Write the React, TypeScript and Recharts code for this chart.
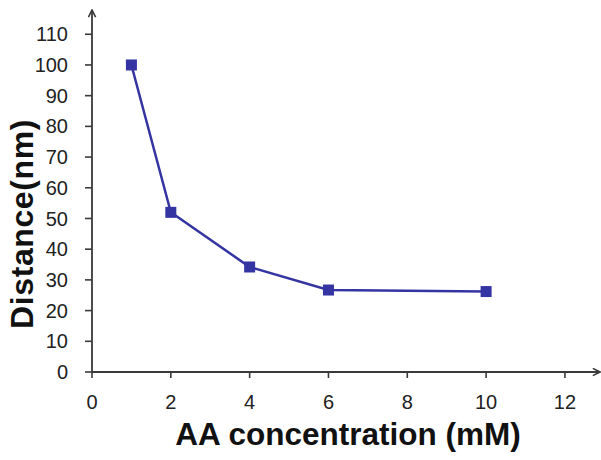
import React from "react";
import { LineChart, Line, XAxis, YAxis } from "recharts";

const concentrations = [1, 2, 4, 6, 10];
const distances = [100, 52, 34.2, 26.7, 26.2];
const xTicks = [0, 2, 4, 6, 8, 10, 12];
const yTicks = [0, 10, 20, 30, 40, 50, 60, 70, 80, 90, 100, 110];

const data = concentrations.map((c, i) => ({ c, d: distances[i] }));

const FONT = "'Liberation Sans', Arial, sans-serif";
const LINE_COLOR = "#3434a2";
const AXIS_COLOR = "#3a3a3a";

const SquareDot = (props: any) => {
  const { cx, cy, index } = props;
  if (cx == null || cy == null) return null;
  return (
    <rect
      key={`dot-${index}`}
      x={cx - 5.5}
      y={cy - 5.5}
      width={11}
      height={11}
      fill={LINE_COLOR}
    />
  );
};

const YLabel = () => (
  <text
    x={22}
    y={224}
    transform="rotate(-90, 22, 224)"
    textAnchor="middle"
    dominantBaseline="central"
    fontFamily={FONT}
    fontWeight="bold"
    fontSize={32}
    letterSpacing={0.6}
    fill="#111"
  >
    Distance(nm)
  </text>
);

const XLabel = () => (
  <text
    x={348}
    y={445}
    textAnchor="middle"
    fontFamily={FONT}
    fontWeight="bold"
    fontSize={31.5}
    fill="#111"
  >
    AA concentration (mM)
  </text>
);

export default function App() {
  return (
    <div style={{ position: "absolute", left: 0, top: 0, width: 601, height: 460, background: "#fff" }}>
      <svg width={0} height={0} style={{ position: "absolute" }}>
        <defs>
          <marker
            id="axisArrow"
            viewBox="0 0 10 10"
            refX={9}
            refY={5}
            markerWidth={9}
            markerHeight={9}
            markerUnits="userSpaceOnUse"
            orient="auto-start-reverse"
          >
            <path d="M1,1 L9,5 L1,9" fill="none" stroke={AXIS_COLOR} strokeWidth={1.8} />
          </marker>
        </defs>
      </svg>
      <LineChart
        width={601}
        height={460}
        data={data}
        margin={{ top: 10, right: 1, bottom: 0, left: 0 }}
      >
        <XAxis
          dataKey="c"
          type="number"
          domain={[0, 12.89]}
          ticks={xTicks}
          interval={0}
          height={88}
          tickSize={6}
          tickMargin={17}
          axisLine={{ stroke: AXIS_COLOR, strokeWidth: 1.8, markerEnd: "url(#axisArrow)" } as any}
          tickLine={{ stroke: AXIS_COLOR, strokeWidth: 1.6 }}
          tick={{ fill: "#222", fontSize: 20, fontFamily: FONT }}
          label={<XLabel />}
        />
        <YAxis
          type="number"
          domain={[0, 117.9]}
          ticks={yTicks}
          interval={0}
          width={92}
          tickSize={7}
          tickMargin={17}
          axisLine={{ stroke: AXIS_COLOR, strokeWidth: 1.8, markerStart: "url(#axisArrow)" } as any}
          tickLine={{ stroke: AXIS_COLOR, strokeWidth: 1.6 }}
          tick={{ fill: "#222", fontSize: 20, fontFamily: FONT }}
          label={<YLabel />}
        />
        <Line
          type="linear"
          dataKey="d"
          stroke={LINE_COLOR}
          strokeWidth={2.5}
          dot={SquareDot}
          activeDot={false}
          isAnimationActive={false}
        />
      </LineChart>
    </div>
  );
}
